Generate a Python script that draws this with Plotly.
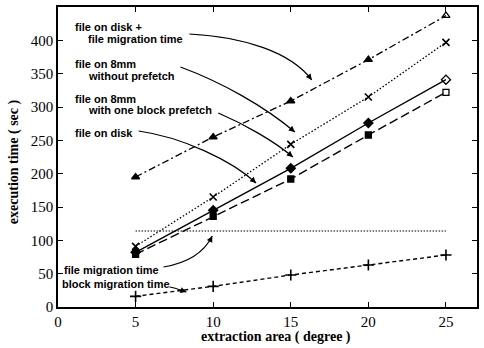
import plotly.graph_objects as go

# ---- data ----
area = [5, 10, 15, 20, 25]
disk_plus_migration = [195, 255, 309, 371, 437]
mm8_no_prefetch = [91, 165, 244, 315, 397]
disk = [82, 145, 208, 276, 341]
mm8_block_prefetch = [79, 136, 192, 258, 322]
file_migration = [114, 114, 114, 114, 114]
block_migration = [16, 31, 48, 63, 78]

x_ticks = [0, 5, 10, 15, 20, 25]
y_ticks = [0, 50, 100, 150, 200, 250, 300, 350, 400, 450]

W, H = 484, 348
L, R, T, B = 58, 5, 7, 41
XMAX, YMAX = 27, 450
PW, PH = W - L - R, H - T - B

def dx(px):
    return (px - L) / PW * XMAX

def dy(py):
    return (T + PH - py) / PH * YMAX

fig = go.Figure()

def marks(sym, n):
    return [sym] * (n - 1) + [sym + "-open"]

fig.add_trace(go.Scatter(x=area, y=disk_plus_migration, mode="lines+markers",
    line=dict(color="black", width=1.3, dash="7px,3px,2px,3px"),
    marker=dict(symbol=marks("triangle-up", 5), size=7, color="black", line=dict(color="black", width=1.3))))
fig.add_trace(go.Scatter(x=area, y=mm8_no_prefetch, mode="lines+markers",
    line=dict(color="black", width=1.3, dash="1.5px,2px"),
    marker=dict(symbol="x-thin", size=7, color="black", line=dict(color="black", width=1.6))))
fig.add_trace(go.Scatter(x=area, y=disk, mode="lines+markers",
    line=dict(color="black", width=1.4),
    marker=dict(symbol=marks("diamond", 5), size=7, color="black", line=dict(color="black", width=1.3))))
fig.add_trace(go.Scatter(x=area, y=mm8_block_prefetch, mode="lines+markers",
    line=dict(color="black", width=1.4, dash="9px,4px"),
    marker=dict(symbol=marks("square", 5), size=6, color="black", line=dict(color="black", width=1.3))))
fig.add_trace(go.Scatter(x=area, y=file_migration, mode="lines",
    line=dict(color="black", width=1.1, dash="1.5px,1.5px")))
fig.add_trace(go.Scatter(x=area, y=block_migration, mode="lines+markers",
    line=dict(color="black", width=1.4, dash="4px,3px"),
    marker=dict(symbol="cross-thin", size=8, color="black", line=dict(color="black", width=1.6))))

# ---- labels ----
tfont = dict(family="Liberation Sans", size=11, color="black")
labels = [
    ("<b>file on disk +</b>", 73, 27),
    ("<b>file migration time</b>", 86, 39),
    ("<b>file on 8mm</b>", 73, 64),
    ("<b>without prefetch</b>", 86, 76),
    ("<b>file on 8mm</b>", 73, 99),
    ("<b>with one block prefetch</b>", 86, 110),
    ("<b>file on disk</b>", 73, 133),
    ("<b>file migration time</b>", 62, 270),
    ("<b>block migration time</b>", 60, 284),
]
for txt, px, py in labels:
    fig.add_annotation(x=dx(px), y=dy(py), xref="x", yref="y", text=txt,
                       showarrow=False, xanchor="left", yanchor="middle", font=tfont)

# ---- curved arrows (pixel geometry) ----
arrows = [
    ((190, 34), (245, 37), (292, 52), (313, 80)),
    ((181, 67), (222, 82), (265, 106), (296, 132)),
    ((219, 113), (245, 124), (275, 141), (294, 157)),
    ((139, 131), (182, 137), (232, 160), (257, 183)),
    ((164, 267), (188, 263), (205, 252), (213, 236)),
    ((170, 287), (176, 288), (181, 290), (187, 292)),
]
for p0, p1, p2, p3 in arrows:
    path = "M {},{} C {},{} {},{} {},{}".format(dx(p0[0]), dy(p0[1]), dx(p1[0]), dy(p1[1]),
                                                 dx(p2[0]), dy(p2[1]), dx(p3[0]), dy(p3[1]))
    fig.add_shape(type="path", path=path, xref="x", yref="y",
                  line=dict(color="black", width=1.2))
    vx, vy = p2[0] - p3[0], p2[1] - p3[1]
    n = (vx * vx + vy * vy) ** 0.5
    fig.add_annotation(x=dx(p3[0]), y=dy(p3[1]), xref="x", yref="y", text="",
                       showarrow=True, ax=vx / n * 8, ay=vy / n * 8,
                       arrowhead=2, arrowsize=1, arrowwidth=1.2, arrowcolor="black")

# ---- axis titles ----
afont = dict(family="Liberation Serif", size=14, color="black")
fig.add_annotation(xref="paper", yref="paper", x=(277 - L) / PW, y=(T + PH - 337) / PH,
                   text="<b>extraction area ( degree )</b>", showarrow=False,
                   xanchor="center", yanchor="middle", font=afont)
fig.add_annotation(xref="paper", yref="paper", x=(14 - L) / PW, y=(T + PH - 162) / PH,
                   text="<b>execution time ( sec )</b>", showarrow=False, textangle=-90,
                   xanchor="center", yanchor="middle", font=afont)

axis_common = dict(showgrid=False, zeroline=False, showline=True, linecolor="black",
                   linewidth=1.5, mirror="allticks", ticks="inside", ticklen=5,
                   tickwidth=1.2, tickcolor="black",
                   tickfont=dict(family="Liberation Serif", size=15, color="black"))
fig.update_xaxes(range=[0, XMAX], tickvals=x_ticks, ticktext=[str(v) for v in x_ticks], **axis_common)
fig.update_yaxes(range=[0, YMAX], tickvals=y_ticks, ticktext=[str(v) for v in y_ticks], **axis_common)

fig.update_layout(width=W, height=H, margin=dict(l=L, r=R, t=T, b=B),
                  paper_bgcolor="white", plot_bgcolor="white", showlegend=False)

fig.write_html("out.html")
